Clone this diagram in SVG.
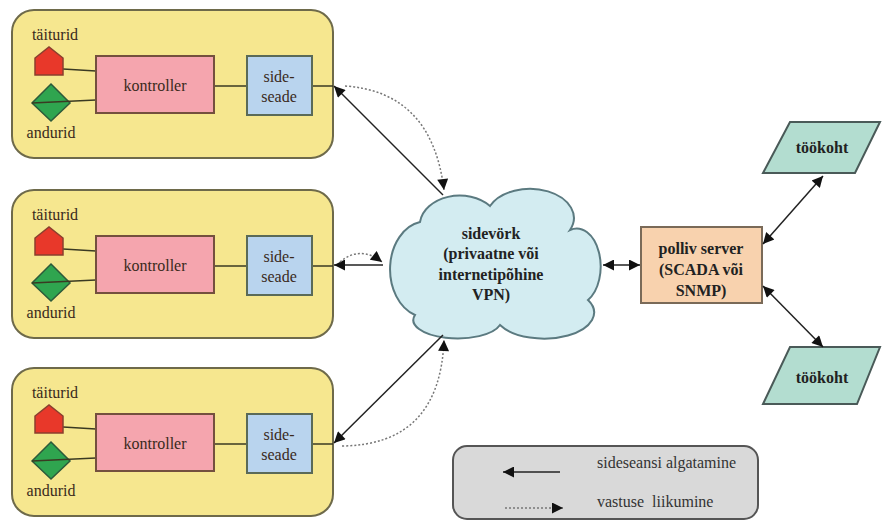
<svg xmlns="http://www.w3.org/2000/svg" width="887" height="522" viewBox="0 0 887 522">
<defs>
<marker id="ahb" viewBox="0 0 10 10" refX="10" refY="5" markerWidth="13" markerHeight="11" markerUnits="userSpaceOnUse" orient="auto-start-reverse">
<path d="M0,0 L10,5 L0,10 z" fill="#111"/>
</marker>
<style>
.panel{fill:#f6e78f;stroke:#6e6a4a;stroke-width:2}
.ctrl{fill:#f5a5ae;stroke:#74503e;stroke-width:2}
.side{fill:#b9d4ee;stroke:#5a6a58;stroke-width:2}
.act{fill:#e8382a;stroke:#8a3f2e;stroke-width:1.5}
.sen{fill:#2fa54f;stroke:#2d5a3a;stroke-width:1.5}
.wire{stroke:#3a3a22;stroke-width:1.5;fill:none}
.t{font-family:"Liberation Serif","Times New Roman","DejaVu Serif",serif;fill:#3a2a1c;text-anchor:middle}
.lg{font-family:"Liberation Serif","Times New Roman","DejaVu Serif",serif;fill:#333;font-size:16px}
.s16{font-size:16px}
.b{font-weight:bold;fill:#222}
.conn{stroke:#222;stroke-width:1.5;fill:none}
.dot{stroke:#777;stroke-width:1.5;fill:none;stroke-dasharray:2 2}
</style>
</defs>

<g id="panel1">
<rect class="panel" x="12" y="10" width="321" height="148" rx="22"/>
<text class="t s16" x="55" y="40">täiturid</text>
<text class="t s16" x="51" y="138">andurid</text>
<line class="wire" x1="63" y1="69" x2="96" y2="71"/>
<line class="wire" x1="214" y1="86" x2="247" y2="86"/>
<line class="wire" x1="312" y1="86" x2="333" y2="86"/>
<polygon class="act" points="35,75 35,58 49,47 63,58 63,75"/>
<polygon class="sen" points="51,84 70,103 51,121 32,103"/>
<line class="wire" x1="32" y1="103" x2="96" y2="100"/>
<rect class="ctrl" x="96" y="56" width="118" height="57"/>
<text class="t s16" x="155" y="91">kontroller</text>
<rect class="side" x="247" y="56" width="65" height="59"/>
<text class="t s16" x="279" y="82">side-</text>
<text class="t s16" x="279" y="102">seade</text>
</g>

<g id="panel2" transform="translate(0,180)">
<rect class="panel" x="12" y="10" width="321" height="148" rx="22"/>
<text class="t s16" x="55" y="40">täiturid</text>
<text class="t s16" x="51" y="138">andurid</text>
<line class="wire" x1="63" y1="69" x2="96" y2="71"/>
<line class="wire" x1="214" y1="86" x2="247" y2="86"/>
<line class="wire" x1="312" y1="86" x2="333" y2="86"/>
<polygon class="act" points="35,75 35,58 49,47 63,58 63,75"/>
<polygon class="sen" points="51,84 70,103 51,121 32,103"/>
<line class="wire" x1="32" y1="103" x2="96" y2="100"/>
<rect class="ctrl" x="96" y="56" width="118" height="57"/>
<text class="t s16" x="155" y="91">kontroller</text>
<rect class="side" x="247" y="56" width="65" height="59"/>
<text class="t s16" x="279" y="82">side-</text>
<text class="t s16" x="279" y="102">seade</text>
</g>

<g id="panel3" transform="translate(0,358)">
<rect class="panel" x="12" y="10" width="321" height="148" rx="22"/>
<text class="t s16" x="55" y="40">täiturid</text>
<text class="t s16" x="51" y="138">andurid</text>
<line class="wire" x1="63" y1="69" x2="96" y2="71"/>
<line class="wire" x1="214" y1="86" x2="247" y2="86"/>
<line class="wire" x1="312" y1="86" x2="333" y2="86"/>
<polygon class="act" points="35,75 35,58 49,47 63,58 63,75"/>
<polygon class="sen" points="51,84 70,103 51,121 32,103"/>
<line class="wire" x1="32" y1="103" x2="96" y2="100"/>
<rect class="ctrl" x="96" y="56" width="118" height="57"/>
<text class="t s16" x="155" y="91">kontroller</text>
<rect class="side" x="247" y="56" width="65" height="59"/>
<text class="t s16" x="279" y="82">side-</text>
<text class="t s16" x="279" y="102">seade</text>
</g>

<g id="cloud">
<path d="M420,222 A40 30 0 0 1 490,206 A42 28 0 0 1 570,230 A24 38 0 0 1 588,300 A46 24 0 0 1 500,325 A43 18 0 0 1 415,315 A36 48 0 0 1 420,222 Z" fill="#d3ecf1" stroke="#5b7a80" stroke-width="2"/>
<text class="t s16 b" x="491" y="239">sidevörk</text>
<text class="t s16 b" x="491" y="259">(privaatne või</text>
<text class="t s16 b" x="491" y="280">internetipõhine</text>
<text class="t s16 b" x="491" y="300">VPN)</text>
</g>

<g id="server">
<rect x="641" y="227" width="121" height="76" fill="#f8d2ae" stroke="#7a6a58" stroke-width="2"/>
<text class="t s16 b" x="701" y="254">polliv server</text>
<text class="t s16 b" x="701" y="275">(SCADA või</text>
<text class="t s16 b" x="701" y="296">SNMP)</text>
</g>

<g id="workstation1">
<polygon points="790,122 880,122 855,173 763,173" fill="#b3ddd0" stroke="#4a5a58" stroke-width="2"/>
<text class="t s16 b" x="822" y="153">töökoht</text>
</g>

<g id="workstation2">
<polygon points="790,347 880,347 857,404 763,404" fill="#b3ddd0" stroke="#4a5a58" stroke-width="2"/>
<text class="t s16 b" x="822" y="383">töökoht</text>
</g>

<g id="connectors">
<line class="conn" x1="443" y1="195" x2="334" y2="86" marker-end="url(#ahb)"/>
<path class="dot" d="M345,86 Q432,92 444,190" marker-end="url(#ahb)"/>
<line class="conn" x1="383" y1="265" x2="334" y2="265" marker-end="url(#ahb)"/>
<path class="dot" d="M340,262 Q360,245 382,262" marker-end="url(#ahb)"/>
<line class="conn" x1="443" y1="335" x2="334" y2="443" marker-end="url(#ahb)"/>
<path class="dot" d="M342,446 Q440,445 444,340" marker-end="url(#ahb)"/>
<line class="conn" x1="603" y1="265" x2="640" y2="265" marker-start="url(#ahb)" marker-end="url(#ahb)"/>
<line class="conn" x1="763" y1="244" x2="823" y2="176" marker-start="url(#ahb)" marker-end="url(#ahb)"/>
<line class="conn" x1="763" y1="286" x2="823" y2="347" marker-start="url(#ahb)" marker-end="url(#ahb)"/>
</g>

<g id="legend">
<rect x="453" y="446" width="305" height="73" rx="14" fill="#d9d9d9" stroke="#555" stroke-width="2"/>
<line class="conn" x1="560" y1="472" x2="503" y2="472" marker-end="url(#ahb)"/>
<path class="dot" d="M505,508 L563,508" marker-end="url(#ahb)"/>
<text class="lg" x="597" y="468">sideseansi algatamine</text>
<text class="lg" x="597" y="507" xml:space="preserve">vastuse  liikumine</text>
</g>
</svg>
